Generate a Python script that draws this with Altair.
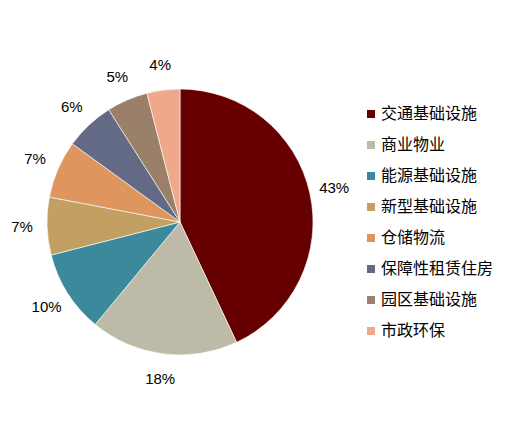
import altair as alt
import pandas as pd

categories = ["交通基础设施", "商业物业", "能源基础设施", "新型基础设施", "仓储物流", "保障性租赁住房", "园区基础设施", "市政环保"]
values = [43, 18, 10, 7, 7, 6, 5, 4]
labels = ["43%", "18%", "10%", "7%", "7%", "6%", "5%", "4%"]
colors = ["#660000", "#BDBAA8", "#3B899A", "#C1A062", "#DE955E", "#636A85", "#9A8068", "#F0A88B"]

df = pd.DataFrame({"cat": categories, "value": values, "label": labels, "idx": list(range(len(values)))})

cx, cy = 172, 214

base = alt.Chart(df).encode(
    theta=alt.Theta("value:Q", stack=True),
    order=alt.Order("idx:Q", sort="ascending"),
)

arcs = base.mark_arc(outerRadius=133, stroke="#ffffff", strokeWidth=0.6).encode(
    x=alt.value(cx), y=alt.value(cy),
    color=alt.Color(
        "cat:N",
        scale=alt.Scale(domain=categories, range=colors),
        legend=alt.Legend(
            title=None, orient="none", legendX=355, legendY=98,
            symbolType="square", symbolSize=64, symbolStrokeWidth=0,
            labelFont="Noto Sans CJK SC", labelFontSize=16, labelColor="#000000",
            rowPadding=15, labelOffset=2, labelLimit=200,
        ),
    ),
)

texts = base.mark_text(radius=158, font="Liberation Sans", fontSize=15, color="#000000").encode(
    x=alt.value(cx), y=alt.value(cy),
    text="label:N",
)

chart = (arcs + texts).properties(
    width=501, height=427,
    autosize=alt.AutoSizeParams(type="none"),
    padding=0,
).configure_view(stroke=None)

chart.save("out.html", embed_options={"renderer": "svg", "actions": False})
